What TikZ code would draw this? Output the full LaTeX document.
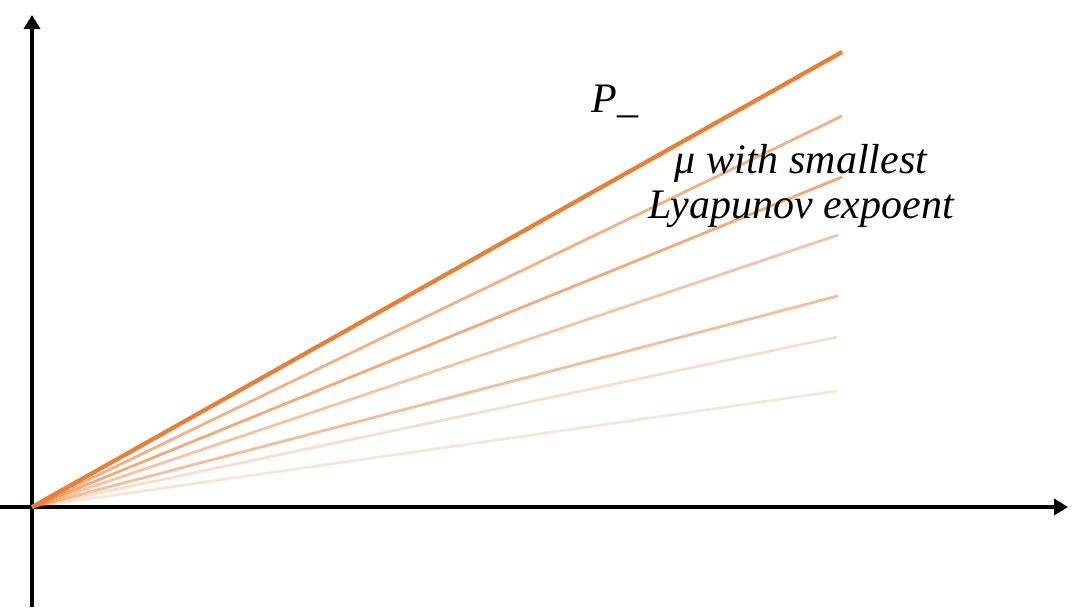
\documentclass[tikz,border=0pt]{standalone}
\usepackage{fontspec}
\setmainfont{Liberation Serif}
\usetikzlibrary{arrows.meta}
\definecolor{lineorange}{RGB}{237,125,49}
\begin{document}
\begin{tikzpicture}[x=0.5pt,y=-0.5pt]
    \useasboundingbox (0,0) rectangle (1083,607);
    % Coordinates for the axes
    \coordinate (o) at (32,507);
    \coordinate (xs) at (0,507);
    \coordinate (xe) at (1068,507);
    \coordinate (ys) at (32,607);
    \coordinate (ye) at (32,15);

    % Axes
    \draw[line width=2.4pt, -{Triangle[length=7pt,width=8pt]}] (xs)--(xe);
    \draw[line width=2.4pt, -{Triangle[length=7pt,width=8pt]}] (ys)--(ye);

    % Fading rays
    \foreach \n/\x/\y/\op in {r1/842/116/0.6, r2/842/177/0.65, r3/838/235/0.45, r4/838/296/0.5, r5/837/337/0.25, r6/837/391/0.2}
        \draw[lineorange, line width=1.4pt, opacity=\op] (o)--(\x,\y) coordinate (\n);

    % Main ray
    \coordinate (p) at (842,52);
    \draw[lineorange, line width=2.1pt] (o)--(p);

    % Labels
    \node[font=\fontsize{21}{25}\selectfont\itshape] (pminus) at (615,101) {P\_};
    \node[align=center, font=\fontsize{21}{22.5}\selectfont\itshape] (mu) at (801,186) {μ with smallest\\Lyapunov expoent};
\end{tikzpicture}
\end{document}
